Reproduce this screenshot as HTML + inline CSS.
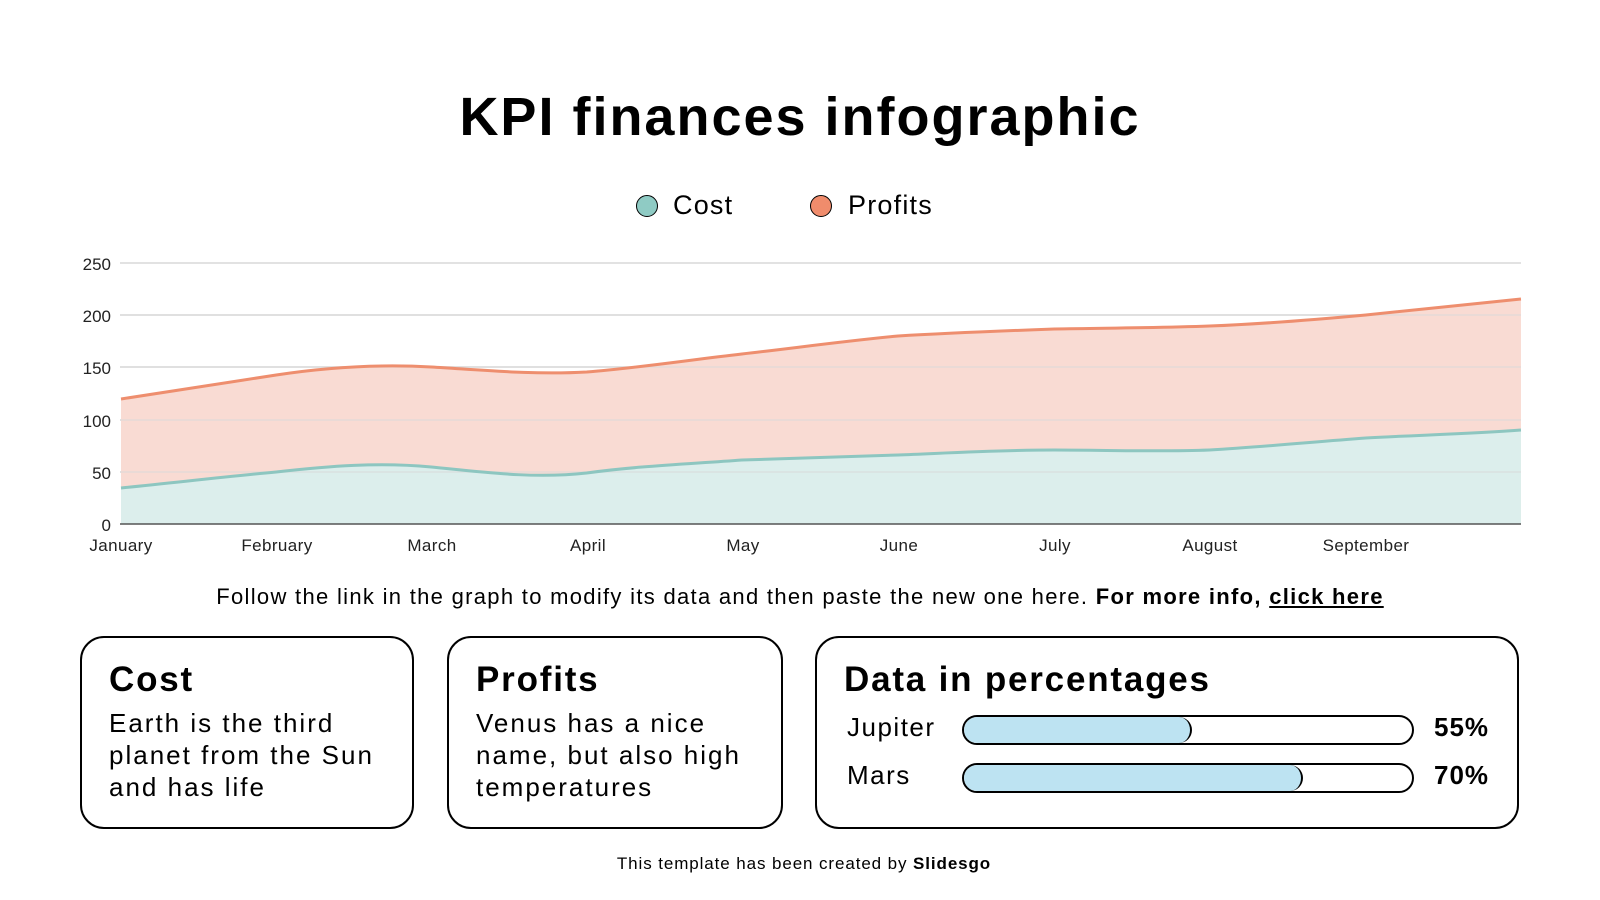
<!DOCTYPE html>
<html><head><meta charset="utf-8"><style>
body{margin:0;width:1600px;height:900px;background:#fff;font-family:"Liberation Sans",sans-serif;position:relative;overflow:hidden;color:#000}
.abs{position:absolute}
.box{position:absolute;border:2px solid #000;border-radius:24px;box-sizing:border-box;top:636px;height:193px}
.box h2{margin:0;position:absolute;left:27px;top:22px;font-size:35px;font-weight:bold;letter-spacing:1.8px}
.box p{margin:0;position:absolute;left:27px;top:69px;font-size:26px;line-height:32px;letter-spacing:2px}
.bar{position:absolute;left:145px;width:452px;height:30px;border:2px solid #000;border-radius:16px;box-sizing:border-box;overflow:hidden}
.fill{height:100%;background:#bde3f2;border-right:2px solid #000;border-radius:16px;box-sizing:border-box}
</style></head><body>
<div class="abs" style="left:0;width:1600px;top:86px;text-align:center;font-size:54px;font-weight:bold;letter-spacing:2px">KPI finances infographic</div>
<div class="abs" style="left:636px;top:195px;width:22px;height:22px;border-radius:50%;background:#8fcbc4;border:1.5px solid #000;box-sizing:border-box"></div>
<div class="abs" style="left:673px;top:190px;font-size:27px;letter-spacing:1.2px">Cost</div>
<div class="abs" style="left:810px;top:195px;width:22px;height:22px;border-radius:50%;background:#f08c6c;border:1.5px solid #000;box-sizing:border-box"></div>
<div class="abs" style="left:848px;top:190px;font-size:27px;letter-spacing:1.2px">Profits</div>
<svg class="abs" style="left:0;top:-2px" width="1600" height="570">
<g stroke="#d9d9d9" stroke-width="1.5">
<line x1="120" x2="1521" y1="265" y2="265"/><line x1="120" x2="1521" y1="317" y2="317"/><line x1="120" x2="1521" y1="369" y2="369"/><line x1="120" x2="1521" y1="422" y2="422"/><line x1="120" x2="1521" y1="474" y2="474"/>
</g>
<g transform="translate(121 0) scale(0.995 1) translate(-121 0)">
<path d="M121,401 C172,393 223,385 277,377 C330,369 380,366 433,369 C484,372 535,377 589,374 C640,370 692,362 745,356 C798,350 849,343 902,338 C953,335 1005,333 1059,331 C1112,330 1162,330 1215,328 C1267,326 1318,322 1372,317 C1425,312 1475,306 1528,301 L1528,526 L121,526 Z" fill="#f9dbd3"/>
<path d="M121,490 C172,485 223,479 277,474 C330,468 380,464 433,469 C484,474 535,481 589,475 C640,468 692,466 745,462 C798,460 849,459 902,457 C953,455 1005,452 1059,452 C1112,452 1162,454 1215,452 C1267,449 1318,444 1372,440 C1425,437 1475,436 1528,432 L1528,526 L121,526 Z" fill="#dceeec"/>
<g stroke="#d9d9d9" stroke-width="1.5" opacity=".6">
<line x1="120" x2="1528" y1="317" y2="317"/><line x1="120" x2="1528" y1="369" y2="369"/><line x1="120" x2="1528" y1="422" y2="422"/><line x1="120" x2="1528" y1="474" y2="474"/>
</g>
<path d="M121,401 C172,393 223,385 277,377 C330,369 380,366 433,369 C484,372 535,377 589,374 C640,370 692,362 745,356 C798,350 849,343 902,338 C953,335 1005,333 1059,331 C1112,330 1162,330 1215,328 C1267,326 1318,322 1372,317 C1425,312 1475,306 1528,301" fill="none" stroke="#ee8e6e" stroke-width="3"/>
<path d="M121,490 C172,485 223,479 277,474 C330,468 380,464 433,469 C484,474 535,481 589,475 C640,468 692,466 745,462 C798,460 849,459 902,457 C953,455 1005,452 1059,452 C1112,452 1162,454 1215,452 C1267,449 1318,444 1372,440 C1425,437 1475,436 1528,432" fill="none" stroke="#8dc6c0" stroke-width="3"/>
</g>
<line x1="120" x2="1521" y1="526" y2="526" stroke="#555" stroke-width="1.5"/>
<g font-family="Liberation Sans" font-size="17" fill="#222" text-anchor="end">
<text x="111" y="272">250</text><text x="111" y="324">200</text><text x="111" y="376">150</text><text x="111" y="429">100</text><text x="111" y="481">50</text><text x="111" y="533">0</text>
</g>
<g font-family="Liberation Sans" font-size="17" fill="#222" text-anchor="middle" letter-spacing="0.4">
<text x="121" y="553">January</text><text x="277" y="553">February</text><text x="432" y="553">March</text><text x="588" y="553">April</text><text x="743" y="553">May</text><text x="899" y="553">June</text><text x="1055" y="553">July</text><text x="1210" y="553">August</text><text x="1366" y="553">September</text>
</g>
</svg>
<div class="abs" style="left:0;width:1600px;top:584px;text-align:center;font-size:22px;letter-spacing:1.3px">Follow the link in the graph to modify its data and then paste the new one here. <b>For more info, <u>click here</u></b></div>
<div class="box" style="left:80px;width:334px"><h2>Cost</h2><p>Earth is the third<br>planet from the Sun<br>and has life</p></div>
<div class="box" style="left:447px;width:336px"><h2>Profits</h2><p>Venus has a nice<br>name, but also high<br>temperatures</p></div>
<div class="box" style="left:815px;width:704px"><h2>Data in percentages</h2>
<div class="abs" style="left:30px;top:74px;font-size:26px;letter-spacing:1.5px">Jupiter</div>
<div class="bar" style="top:77px"><div class="fill" style="width:228px"></div></div>
<div class="abs" style="left:617px;top:74px;font-size:26px;font-weight:bold;letter-spacing:1px">55%</div>
<div class="abs" style="left:30px;top:122px;font-size:26px;letter-spacing:1.5px">Mars</div>
<div class="bar" style="top:125px"><div class="fill" style="width:339px"></div></div>
<div class="abs" style="left:617px;top:122px;font-size:26px;font-weight:bold;letter-spacing:1px">70%</div>
</div>
<div class="abs" style="left:0;width:1608px;top:854px;text-align:center;font-size:17px;letter-spacing:0.9px">This template has been created by <b>Slidesgo</b></div>
</body></html>
